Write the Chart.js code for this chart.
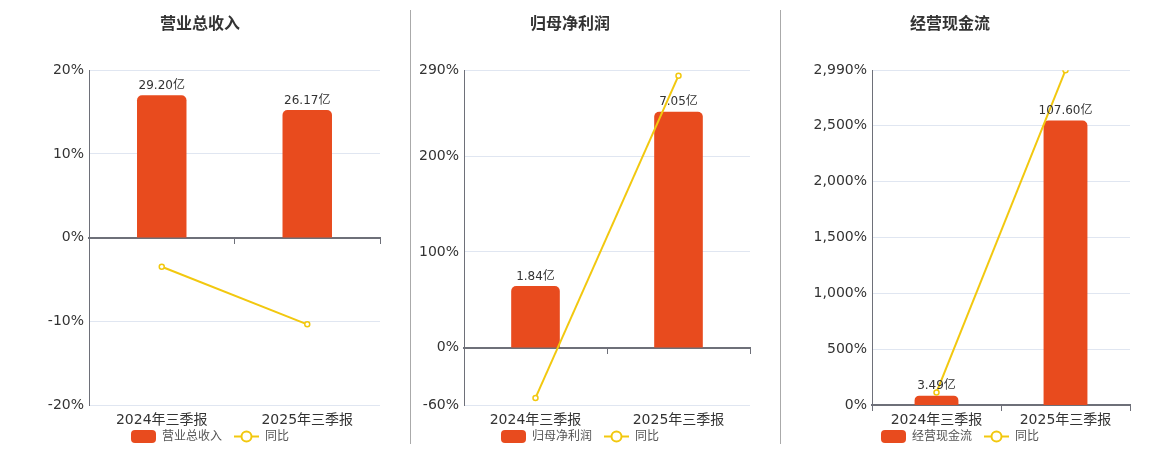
<!DOCTYPE html>
<html>
<head>
<meta charset="utf-8">
<script src="https://cdn.jsdelivr.net/npm/chart.js@4.4.1/dist/chart.umd.min.js"></script>
<style>
  html, body { margin: 0; padding: 0; background: #fff; overflow: hidden; }
  body { width: 1160px; height: 450px; position: relative; }
  canvas { position: absolute; top: 0; }
  .sep { position: absolute; top: 10px; width: 1px; height: 434px; background: #aaa; }
</style>
</head>
<body>
<canvas id="c1" width="380" height="450" style="left:20px"></canvas>
<canvas id="c2" width="380" height="450" style="left:390px"></canvas>
<canvas id="c3" width="380" height="450" style="left:770px"></canvas>
<div class="sep" style="left:410px"></div>
<div class="sep" style="left:780px"></div>
<script>
// data
const categories = ['2024年三季报', '2025年三季报'];

const revenue = [29.20, 26.17];          // 亿
const revenueYoy = [-3.48, -10.36];      // %
const revenueTicks = [-20, -10, 0, 10, 20];

const profit = [1.84, 7.05];
const profitYoy = [-52.6, 284.3];
const profitTicks = [-60, 0, 100, 200, 290];

const cash = [3.49, 107.60];
const cashYoy = [112, 2990];
const cashTicks = [0, 500, 1000, 1500, 2000, 2500, 2990];

const BAR = '#E84B1E';
const LINE = '#F2C80F';
const FONT = '"DejaVu Sans", "Noto Sans CJK SC", sans-serif';

const barLabels = {
    id: 'barLabels',
    afterDatasetsDraw(chart) {
        const ctx = chart.ctx;
        const values = chart.data.datasets[0].data;
        ctx.save();
        ctx.font = '12px ' + FONT;
        ctx.fillStyle = '#333';
        ctx.textAlign = 'center';
        ctx.textBaseline = 'middle';
        chart.getDatasetMeta(0).data.forEach((bar, i) => {
            ctx.fillText(values[i].toFixed(2) + '亿', bar.x, bar.y - 9.5);
        });
        ctx.restore();
    }
};

// small legend under the axis: rounded box for the bars, line+circle for 同比
const legendRow = {
    id: 'legendRow',
    afterDraw(chart) {
        const ctx = chart.ctx;
        const names = chart.data.datasets.map(d => d.label);
        ctx.save();
        ctx.font = '12px ' + FONT;
        const w0 = ctx.measureText(names[0]).width;
        const w1 = ctx.measureText(names[1]).width;
        const total = 25 + 6 + w0 + 12 + 25 + 6 + w1;
        let x = chart.width / 2 - total / 2;
        const y = 436.5;

        ctx.fillStyle = BAR;
        ctx.beginPath();
        ctx.roundRect(x, y - 6.5, 25, 13, 4);
        ctx.fill();
        x += 31;
        ctx.fillStyle = '#555';
        ctx.textBaseline = 'middle';
        ctx.fillText(names[0], x, y);
        x += w0 + 12;

        ctx.strokeStyle = LINE;
        ctx.lineWidth = 2;
        ctx.beginPath();
        ctx.moveTo(x, y); ctx.lineTo(x + 25, y);
        ctx.stroke();
        ctx.fillStyle = '#fff';
        ctx.beginPath();
        ctx.arc(x + 12.5, y, 5, 0, Math.PI * 2);
        ctx.fill();
        ctx.stroke();
        x += 31;
        ctx.fillStyle = '#555';
        ctx.fillText(names[1], x, y);
        ctx.restore();
    }
};

function makeChart(id, title, bars, yoy, ticks, axisWidth) {
    const lo = ticks[0], hi = ticks[ticks.length - 1];
    // bar axis keeps zero aligned with the % axis, tallest bar at 85%
    const barMax = Math.max(...bars) / 0.85;
    const barMin = -barMax * (-lo) / hi;

    return new Chart(document.getElementById(id), {
        data: {
            labels: categories,
            datasets: [
                {
                    type: 'bar', label: title, data: bars, yAxisID: 'yb', xAxisID: 'x',
                    backgroundColor: BAR, order: 1,
                    barPercentage: 0.34, categoryPercentage: 1,
                    borderRadius: { topLeft: 5, topRight: 5 }, borderSkipped: 'bottom'
                },
                {
                    type: 'line', label: '同比', data: yoy, yAxisID: 'y', xAxisID: 'x',
                    borderColor: LINE, borderWidth: 2, order: 0,
                    pointRadius: 2.5, pointBorderWidth: 1.5,
                    pointBackgroundColor: '#fff', pointBorderColor: LINE
                }
            ]
        },
        options: {
            responsive: false,
            animation: false,
            layout: { padding: { left: 0, right: 20, top: 0, bottom: 0 } },
            plugins: {
                title: {
                    display: true, text: title, color: '#333',
                    font: { size: 16, weight: 'bold', family: FONT },
                    padding: { top: 15, bottom: 36 }
                },
                legend: { display: false },
                tooltip: { enabled: false }
            },
            scales: {
                x: {
                    type: 'category', position: 'bottom',
                    grid: { display: false, drawTicks: false }, border: { display: false },
                    ticks: { color: '#333', padding: 7, font: { size: 14, family: FONT } },
                    afterFit: (s) => { s.height = 45; }
                },
                x0: {
                    type: 'category', position: { y: 0 }, offset: true,
                    grid: { drawOnChartArea: false, drawTicks: true, tickLength: 5, color: '#6E7079', offset: true },
                    border: { color: '#6E7079', width: 2 },
                    ticks: { display: false }
                },
                y: {
                    type: 'linear', position: 'left', min: lo, max: hi,
                    afterBuildTicks: (s) => { s.ticks = ticks.map(v => ({ value: v })); },
                    afterFit: (s) => { s.width = axisWidth; },
                    grid: { color: '#E0E6F1', drawTicks: false },
                    border: { color: '#6E7079', width: 1 },
                    ticks: {
                        color: '#333', padding: 5, font: { size: 14, family: FONT },
                        callback: (v) => v.toLocaleString('en-US') + '%'
                    }
                },
                yb: {
                    type: 'linear', display: false, min: barMin, max: barMax
                }
            }
        },
        plugins: [barLabels, legendRow]
    });
}

makeChart('c1', '营业总收入', revenue, revenueYoy, revenueTicks, 69);
makeChart('c2', '归母净利润', profit, profitYoy, profitTicks, 74);
makeChart('c3', '经营现金流', cash, cashYoy, cashTicks, 102);
</script>
</body>
</html>
